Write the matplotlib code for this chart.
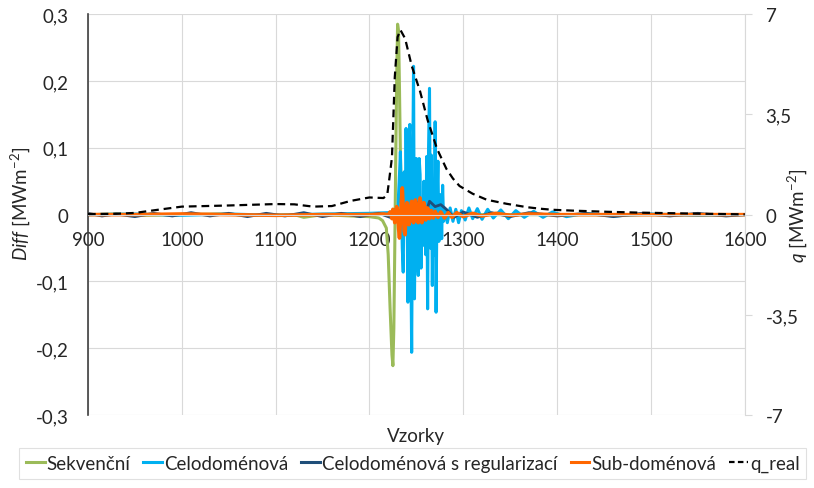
import matplotlib
matplotlib.use("Agg")
import matplotlib.pyplot as plt
from matplotlib.lines import Line2D

plt.rcParams["font.family"] = ["Lato", "DejaVu Sans"]
plt.rcParams["mathtext.fontset"] = "custom"
plt.rcParams["mathtext.rm"] = "Lato"
plt.rcParams["mathtext.it"] = "Lato:italic"

# ── Data ──────────────────────────────────────────────────────────────────────
x_ticks = [900, 1000, 1100, 1200, 1300, 1400, 1500, 1600]
diff_ticks = [-0.3, -0.2, -0.1, 0, 0.1, 0.2, 0.3]
diff_labels = ["-0,3", "-0,2", "-0,1", "0", "0,1", "0,2", "0,3"]
q_ticks = [-7, -3.5, 0, 3.5, 7]
q_labels = ["-7", "-3,5", "0", "3,5", "7"]

# Sekvenční
green_x = [900, 930, 960, 1000, 1040, 1080, 1120, 1130, 1150, 1180, 1200, 1210,
           1214, 1218, 1220, 1222, 1224, 1225, 1226, 1227, 1228, 1229, 1230,
           1231, 1232, 1233, 1234, 1236, 1240, 1250, 1270, 1300, 1400, 1500, 1600]
green_y = [0.0, 0.001, -0.001, 0.0, 0.001, -0.001, 0.0, -0.004, 0.0, -0.002,
           -0.003, -0.005, -0.009, -0.02, -0.06, -0.14, -0.21, -0.226, -0.17,
           -0.05, 0.08, 0.2, 0.285, 0.275, 0.19, 0.09, 0.015, -0.004, 0.003,
           -0.002, 0.001, 0.0, 0.0, 0.0, 0.0]

# Celodoménová
blue_x = [900, 950, 1000, 1050, 1100, 1150, 1200, 1220, 1226,
          1229, 1230, 1231, 1232, 1233, 1234, 1235, 1236, 1237, 1238, 1239,
          1240, 1241, 1242, 1243, 1244, 1245, 1246, 1247, 1248, 1249, 1250,
          1251, 1252, 1253, 1254, 1255, 1256, 1257, 1258, 1259, 1260, 1261,
          1262, 1263, 1264, 1265, 1266, 1267, 1268, 1269, 1270, 1271, 1272,
          1273, 1274, 1275, 1276, 1277, 1278, 1279, 1280,
          1283, 1286, 1289, 1292, 1295, 1298, 1302, 1306, 1310, 1315, 1320,
          1326, 1332, 1340, 1348, 1356, 1365, 1375, 1385, 1395, 1410, 1430,
          1460, 1500, 1550, 1600]
blue_y = [0.0, 0.001, -0.001, 0.001, -0.001, 0.001, 0.002, 0.003, 0.005,
          0.0, -0.01, 0.03, 0.06, 0.094, 0.02, -0.05, -0.086, 0.064, -0.026,
          0.129, 0.02, -0.131, 0.1, 0.135, -0.05, -0.206, 0.05, 0.222, -0.126,
          0.03, 0.084, -0.06, -0.091, 0.084, 0.06, -0.08, 0.02, -0.046, 0.05,
          -0.02, -0.06, 0.087, -0.141, 0.1, 0.189, -0.05, 0.089, -0.106, 0.03,
          -0.06, 0.139, -0.146, 0.02, 0.08, -0.04, -0.01, 0.03, -0.036, 0.044,
          -0.01, 0.01,
          -0.012, 0.01, -0.01, 0.008, -0.012, 0.006, -0.008, 0.01, -0.006,
          0.009, -0.007, 0.008, -0.005, 0.007, -0.006, 0.006, -0.004, 0.005,
          -0.004, 0.004, -0.003, 0.002, -0.002, 0.001, -0.001, 0.0]

# Celodoménová s regularizací
dark_x = [900, 915, 930, 950, 970, 990, 1010, 1030, 1050, 1070, 1090, 1110,
          1130, 1150, 1170, 1190, 1210, 1222, 1228, 1234, 1240, 1246, 1252,
          1258, 1264, 1270, 1276, 1282, 1290, 1300, 1315, 1330, 1350, 1370,
          1400, 1430, 1460, 1490, 1520, 1550, 1580, 1600]
dark_y = [0.002, -0.002, 0.001, -0.003, 0.002, -0.002, 0.003, -0.002, 0.002,
          -0.003, 0.002, -0.002, 0.003, -0.003, 0.002, -0.003, 0.002, -0.004,
          0.008, -0.012, 0.015, -0.01, 0.018, -0.008, 0.02, 0.012, 0.015,
          0.008, -0.004, 0.004, -0.004, 0.003, -0.003, 0.003, -0.002, 0.002,
          -0.003, 0.002, -0.002, 0.002, -0.002, 0.0]

# Sub-doménová
orange_x = [900, 950, 1000, 1050, 1100, 1150, 1200, 1215, 1220, 1222, 1224,
            1225, 1226, 1227, 1228, 1229, 1230, 1231, 1232, 1233, 1234, 1235,
            1236, 1237, 1238, 1239, 1240, 1241, 1242, 1243, 1244, 1245, 1246,
            1247, 1248, 1249, 1250, 1251, 1252, 1253, 1254, 1255, 1256, 1257,
            1258, 1259, 1260, 1261, 1262, 1263, 1264, 1266, 1268, 1270, 1273,
            1276, 1280, 1284, 1288, 1293, 1300, 1310, 1320, 1335, 1350, 1370,
            1400, 1450, 1500, 1550, 1600]
orange_y = [0.0, 0.0, 0.001, 0.0, -0.001, 0.0, 0.0, 0.001, 0.0, 0.004, -0.006,
            0.008, 0.0, -0.012, -0.005, 0.012, 0.006, -0.02, -0.035, -0.01,
            0.02, 0.04, 0.01, -0.025, -0.03, 0.0, 0.018, 0.01, -0.015, -0.01,
            0.012, 0.02, 0.005, -0.012, 0.0, 0.022, 0.015, -0.01, -0.012, 0.01,
            0.025, 0.012, -0.012, 0.0, 0.018, 0.012, -0.008, -0.005, 0.01,
            0.006, -0.006, 0.006, -0.005, 0.005, -0.004, 0.004, -0.005, 0.003,
            -0.004, 0.003, -0.003, 0.002, -0.002, 0.002, -0.001, 0.001, 0.0,
            0.0, 0.0, 0.0, 0.0]

# q_real (pravá osa)
q_x = [900, 930, 950, 970, 1000, 1050, 1100, 1120, 1140, 1160, 1180, 1200,
       1215, 1219, 1221, 1224, 1227, 1230, 1233, 1238, 1245, 1254, 1262, 1272,
       1282, 1289, 1296, 1310, 1325, 1346, 1368, 1381, 1395, 1417, 1453, 1488,
       1523, 1559, 1600]
q_y = [0.02, 0.03, 0.06, 0.15, 0.28, 0.32, 0.37, 0.36, 0.28, 0.3, 0.48, 0.6,
       0.58, 0.7, 1.2, 2.0, 4.8, 6.2, 6.45, 6.15, 5.2, 4.3, 3.3, 2.3, 1.6,
       1.26, 1.0, 0.73, 0.52, 0.38, 0.26, 0.21, 0.17, 0.14, 0.1, 0.07, 0.05,
       0.03, 0.01]

# ── Colori ────────────────────────────────────────────────────────────────────
C_GREEN = "#9BBB59"
C_BLUE = "#00B0F0"
C_DARK = "#1F4E79"
C_ORANGE = "#FF6600"
C_GRID = "#D9D9D9"
C_TEXT = "#262626"

FS = 13.5

fig = plt.figure(figsize=(8.14, 4.89), dpi=100, facecolor="white")
ax = fig.add_axes([0.108, 0.149, 0.807, 0.820])

ax.plot(green_x, green_y, color=C_GREEN, lw=2.2, solid_joinstyle="round")
ax.plot(blue_x, blue_y, color=C_BLUE, lw=2.2, solid_joinstyle="round")
ax.plot(dark_x, dark_y, color=C_DARK, lw=2.0, solid_joinstyle="round")
ax.plot(orange_x, orange_y, color=C_ORANGE, lw=2.6, solid_joinstyle="round")

ax.set_xlim(900, 1600)
ax.set_ylim(-0.3, 0.3)
ax.set_xticks(x_ticks)
ax.set_xticklabels([str(v) for v in x_ticks])
ax.set_yticks(diff_ticks)
ax.set_yticklabels(diff_labels)
ax.set_axisbelow(True)
ax.grid(True, color=C_GRID, lw=0.8)

ax.spines["top"].set_visible(False)
ax.spines["right"].set_visible(False)
ax.spines["left"].set_color("#404040")
ax.spines["left"].set_linewidth(1.2)
ax.spines["bottom"].set_position(("data", 0))
ax.spines["bottom"].set_color(C_GRID)
ax.tick_params(axis="x", length=0, pad=12, labelsize=FS, labelcolor=C_TEXT)
ax.tick_params(axis="y", length=0, pad=14, labelsize=FS, labelcolor=C_TEXT)

ax.set_ylabel(r"$\it{Diff}$ [MWm$^{-2}$]", fontsize=FS, color=C_TEXT)
ax.yaxis.set_label_coords(-0.085, 0.53)
ax.text(0.5, -0.05, "Vzorky", transform=ax.transAxes, ha="center",
        va="center", fontsize=FS, color=C_TEXT)

ax2 = ax.twinx()
ax2.plot(q_x, q_y, color="black", lw=1.6, dashes=(3.5, 2.2))
ax2.set_ylim(-7, 7)
ax2.set_yticks(q_ticks)
ax2.set_yticklabels(q_labels)
for s in ["top", "left", "bottom"]:
    ax2.spines[s].set_visible(False)
ax2.spines["right"].set_color(C_GRID)
ax2.tick_params(axis="y", length=5, color=C_GRID, pad=10, labelsize=FS,
                labelcolor=C_TEXT)
ax2.set_ylabel(r"$\it{q}$ [MWm$^{-2}$]", fontsize=FS, color=C_TEXT)
ax2.yaxis.set_label_coords(1.062, 0.5)

handles = [
    Line2D([], [], color=C_GREEN, lw=2.2),
    Line2D([], [], color=C_BLUE, lw=2.2),
    Line2D([], [], color=C_DARK, lw=2.2),
    Line2D([], [], color=C_ORANGE, lw=2.2),
    Line2D([], [], color="black", lw=1.6, dashes=(2.5, 1.5)),
]
labels = ["Sekvenční", "Celodoménová", "Celodoménová s regularizací",
          "Sub-doménová", "q_real"]
leg = fig.legend(handles, labels, loc="lower center", ncol=5,
                 bbox_to_anchor=(0.507, 0.0), fontsize=FS, frameon=True,
                 fancybox=False, edgecolor=C_GRID, handlelength=1.0,
                 handletextpad=0.1, columnspacing=0.7, borderpad=0.35)
leg.get_frame().set_linewidth(0.8)
for t in leg.get_texts():
    t.set_color(C_TEXT)

fig.savefig("out.png", dpi=100, facecolor="white")
